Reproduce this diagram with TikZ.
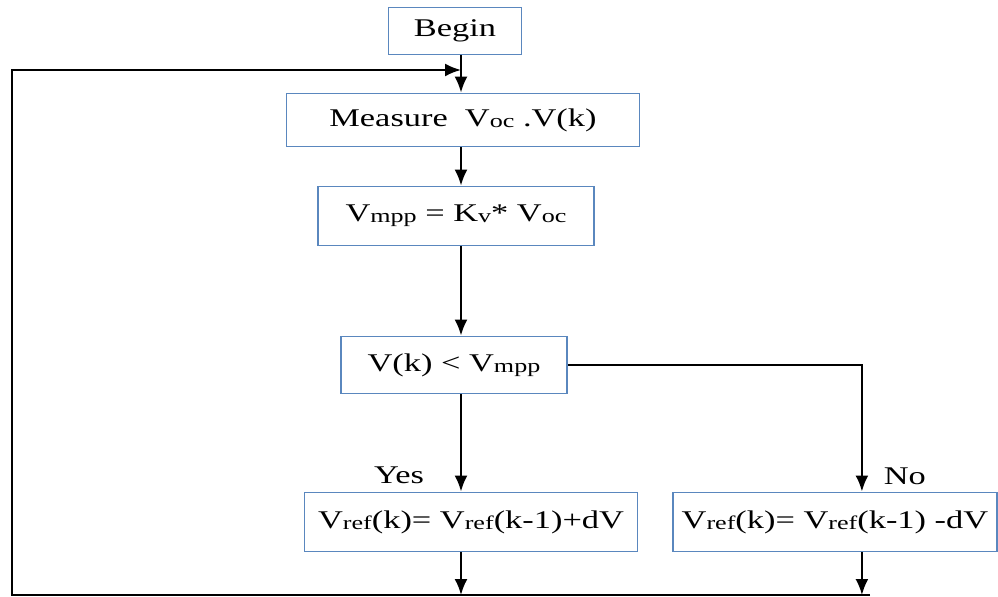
\documentclass[tikz,border=0pt]{standalone}
\usepackage{fontspec}
\setmainfont{Liberation Serif}[FakeStretch=1.35]
\usetikzlibrary{arrows.meta}
\definecolor{boxblue}{RGB}{90,135,190}
\newcommand{\sbs}[1]{\raisebox{-0.1ex}{\fontsize{11pt}{11pt}\selectfont #1}}
\tikzset{
    box/.style={draw=boxblue, line width=1pt, fill=white, inner sep=2pt, font=\fontsize{14.5pt}{16pt}\selectfont},
    arr/.style={-{Latex[length=0.32cm,width=0.26cm]}, line width=1.2pt},
    lbl/.style={font=\fontsize{14.5pt}{16pt}\selectfont},
}

\begin{document}
\begin{tikzpicture}[x=0.02cm, y=-0.02cm]
    \useasboundingbox (0,0) rectangle (998,597);
    \node[box, minimum width=2.66cm, minimum height=0.94cm] at (455,31) (begin){Begin};
    \node[box, below of=begin, node distance=1.78cm, xshift=0.16cm, minimum width=7.06cm, minimum height=1.06cm](measure){Measure\ \ V\sbs{oc} .V(k)};
    \node[box, below of=measure, node distance=1.92cm, xshift=-0.14cm, minimum width=5.52cm, minimum height=1.18cm](vmpp){V\sbs{mpp} = K\sbs{v}* V\sbs{oc}};
    \node[box, below of=vmpp, node distance=2.98cm, xshift=-0.04cm, minimum width=4.52cm, minimum height=1.14cm](test){V(k) < V\sbs{mpp}};
    \node[box, below of=test, node distance=3.14cm, xshift=0.34cm, minimum width=6.66cm, minimum height=1.18cm](yesbox){V\sbs{ref}(k)= V\sbs{ref}(k-1)+dV};
    \node[box, right of=yesbox, node distance=7.28cm, minimum width=6.48cm, minimum height=1.18cm](nobox){V\sbs{ref}(k)= V\sbs{ref}(k-1) -dV};

    \coordinate (join) at (461,70);
    \coordinate (busL) at (12,595);
    \coordinate (busR) at (870,595);

    \draw[arr] (begin.south -| join) -- (measure.north -| join);
    \draw[arr] (measure.south -| join) -- (vmpp.north -| join);
    \draw[arr] (vmpp.south -| join) -- (test.north -| join);
    \draw[arr] (test.south -| join) -- node[lbl, pos=0.83, left=0.6cm](yes){Yes} (yesbox.north -| join);
    \draw[arr] (test.east) -| node[lbl, pos=0.94, right=0.3cm](no){No} ([xshift=0.54cm]nobox.north);
    \draw[arr] (yesbox.south -| join) -- (join |- busL);
    \draw[arr] ([xshift=0.54cm]nobox.south) -- ([xshift=0.54cm]nobox.south |- busL);
    \draw[arr] (busR) -- (busL) |- (join);
\end{tikzpicture}
\end{document}
